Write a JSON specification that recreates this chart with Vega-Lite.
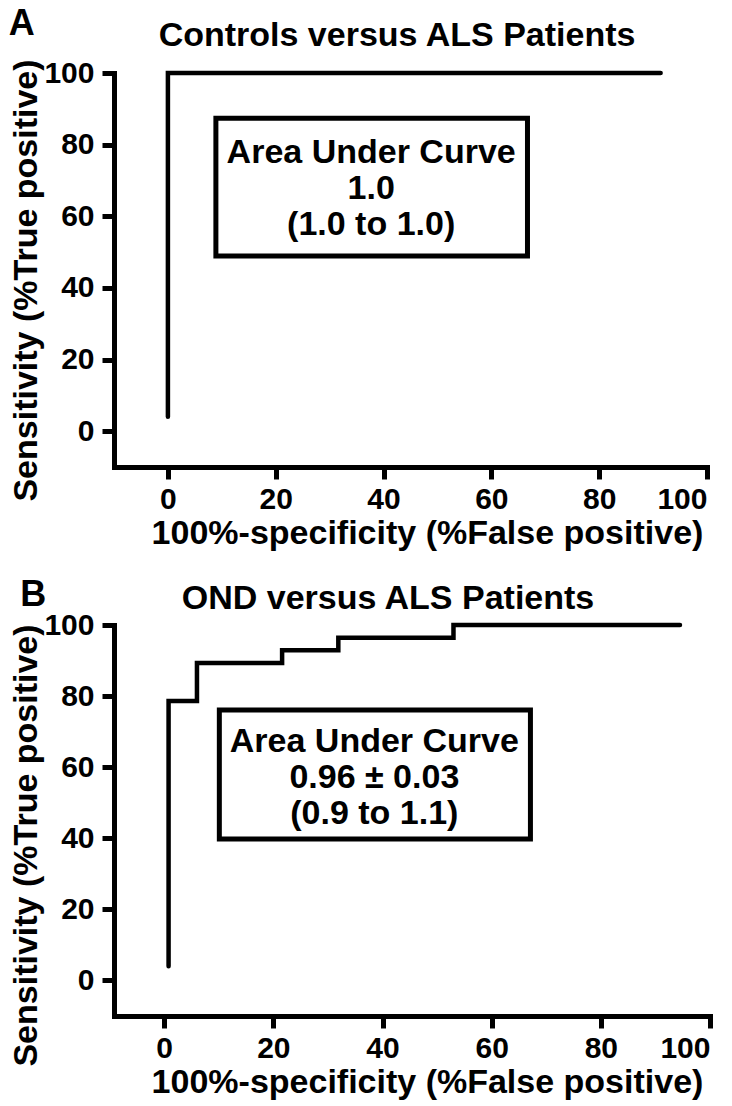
{
  "$schema": "https://vega.github.io/schema/vega-lite/v6.json",
  "background": "white",
  "padding": {"left": 8, "top": 5, "right": 10, "bottom": 3},
  "spacing": 26,
  "datasets": {
    "rocA": [
      {"fpr": 0, "tpr": 4, "i": 1},
      {"fpr": 0, "tpr": 100, "i": 2},
      {"fpr": 91.4, "tpr": 100, "i": 3}
    ],
    "rocB": [
      {"fpr": 0.8, "tpr": 4, "i": 1},
      {"fpr": 0.8, "tpr": 78.6, "i": 2},
      {"fpr": 6.0, "tpr": 89.3, "i": 3},
      {"fpr": 21.6, "tpr": 92.9, "i": 4},
      {"fpr": 31.9, "tpr": 96.4, "i": 5},
      {"fpr": 53.0, "tpr": 100, "i": 6},
      {"fpr": 94.5, "tpr": 100, "i": 7}
    ],
    "boxA": [{"x1": 8.9, "x2": 66.7, "y1": 48.9, "y2": 87.4, "cx": 37.7, "cy": 67.6, "label": "Area Under Curve\n1.0\n(1.0 to 1.0)"}],
    "boxB": [{"x1": 10.1, "x2": 67.1, "y1": 39.8, "y2": 76.1, "cx": 38.5, "cy": 57.0, "label": "Area Under Curve\n0.96 ± 0.03\n(0.9 to 1.1)"}],
    "headA": [
      {"text": "A", "tx": -27.1, "ty": 113.7, "kind": "tag"},
      {"text": "Controls versus ALS Patients", "tx": 42.5, "ty": 110.2, "kind": "title"}
    ],
    "headB": [
      {"text": "B", "tx": -24, "ty": 108.5, "kind": "tag"},
      {"text": "OND versus ALS Patients", "tx": 41, "ty": 107.3, "kind": "title"}
    ]
  },
  "config": {
    "view": {"stroke": null},
    "font": "Liberation Sans",
    "axis": {
      "grid": false,
      "domainColor": "black",
      "domainWidth": 5,
      "domainCap": "square",
      "tickColor": "black",
      "tickWidth": 5,
      "tickSize": 12,
      "labelFont": "Liberation Sans",
      "labelFontWeight": "bold",
      "labelFontSize": 30,
      "labelColor": "black",
      "titleFont": "Liberation Sans",
      "titleFontWeight": "bold",
      "titleFontSize": 34,
      "titleColor": "black"
    },
    "axisX": {"labelPadding": 5, "titlePadding": 2},
    "axisY": {"labelPadding": 8, "titlePadding": 0}
  },
  "vconcat": [
    {
      "width": 593,
      "height": 394,
      "layer": [
        {
          "data": {"name": "rocA"},
          "mark": {"type": "line", "interpolate": "step-after", "color": "black", "strokeWidth": 4.5, "strokeCap": "round"},
          "encoding": {
            "x": {"field": "fpr", "type": "quantitative", "scale": {"domain": [-10, 100], "nice": false, "zero": false},
              "axis": {"values": [0, 20, 40, 60, 80, 100], "title": "100%-specificity (%False positive)", "titleX": 313,
                "labelAlign": {"condition": {"test": "datum.value == 100", "value": "right"}, "value": "center"}}},
            "y": {"field": "tpr", "type": "quantitative", "scale": {"domain": [-10, 100], "nice": false, "zero": false},
              "axis": {"values": [0, 20, 40, 60, 80, 100], "title": "Sensitivity (%True positive)", "titleY": 207}},
            "order": {"field": "i"}
          }
        },
        {
          "data": {"name": "boxA"},
          "mark": {"type": "rect", "fill": "white", "fillOpacity": 0, "stroke": "black", "strokeWidth": 5},
          "encoding": {
            "x": {"field": "x1", "type": "quantitative"}, "x2": {"field": "x2"},
            "y": {"field": "y1", "type": "quantitative"}, "y2": {"field": "y2"}
          }
        },
        {
          "data": {"name": "boxA"},
          "mark": {"type": "text", "font": "Liberation Sans", "fontWeight": "bold", "fontSize": 34, "lineBreak": "\n", "lineHeight": 36, "dy": -36, "align": "center", "baseline": "middle", "color": "black"},
          "encoding": {
            "x": {"field": "cx", "type": "quantitative"},
            "y": {"field": "cy", "type": "quantitative"},
            "text": {"field": "label"}
          }
        },
        {
          "data": {"name": "headA"},
          "mark": {"type": "text", "font": "Liberation Sans", "fontWeight": "bold", "align": "center", "baseline": "middle", "color": "black"},
          "encoding": {
            "x": {"field": "tx", "type": "quantitative"},
            "y": {"field": "ty", "type": "quantitative"},
            "text": {"field": "text"},
            "size": {"field": "kind", "type": "nominal", "scale": {"domain": ["tag", "title"], "range": [36, 34]}, "legend": null}
          }
        }
      ]
    },
    {
      "width": 596,
      "height": 391,
      "layer": [
        {
          "data": {"name": "rocB"},
          "mark": {"type": "line", "interpolate": "step-after", "color": "black", "strokeWidth": 4.5, "strokeCap": "round"},
          "encoding": {
            "x": {"field": "fpr", "type": "quantitative", "scale": {"domain": [-9.2, 100], "nice": false, "zero": false},
              "axis": {"values": [0, 20, 40, 60, 80, 100], "title": "100%-specificity (%False positive)", "titleX": 313,
                "labelAlign": {"condition": {"test": "datum.value == 100", "value": "right"}, "value": "center"}}},
            "y": {"field": "tpr", "type": "quantitative", "scale": {"domain": [-10, 100], "nice": false, "zero": false},
              "axis": {"values": [0, 20, 40, 60, 80, 100], "title": "Sensitivity (%True positive)", "titleY": 220}},
            "order": {"field": "i"}
          }
        },
        {
          "data": {"name": "boxB"},
          "mark": {"type": "rect", "fill": "white", "fillOpacity": 0, "stroke": "black", "strokeWidth": 5},
          "encoding": {
            "x": {"field": "x1", "type": "quantitative"}, "x2": {"field": "x2"},
            "y": {"field": "y1", "type": "quantitative"}, "y2": {"field": "y2"}
          }
        },
        {
          "data": {"name": "boxB"},
          "mark": {"type": "text", "font": "Liberation Sans", "fontWeight": "bold", "fontSize": 34, "lineBreak": "\n", "lineHeight": 36, "dy": -36, "align": "center", "baseline": "middle", "color": "black"},
          "encoding": {
            "x": {"field": "cx", "type": "quantitative"},
            "y": {"field": "cy", "type": "quantitative"},
            "text": {"field": "label"}
          }
        },
        {
          "data": {"name": "headB"},
          "mark": {"type": "text", "font": "Liberation Sans", "fontWeight": "bold", "align": "center", "baseline": "middle", "color": "black"},
          "encoding": {
            "x": {"field": "tx", "type": "quantitative"},
            "y": {"field": "ty", "type": "quantitative"},
            "text": {"field": "text"},
            "size": {"field": "kind", "type": "nominal", "scale": {"domain": ["tag", "title"], "range": [36, 34]}, "legend": null}
          }
        }
      ]
    }
  ]
}
